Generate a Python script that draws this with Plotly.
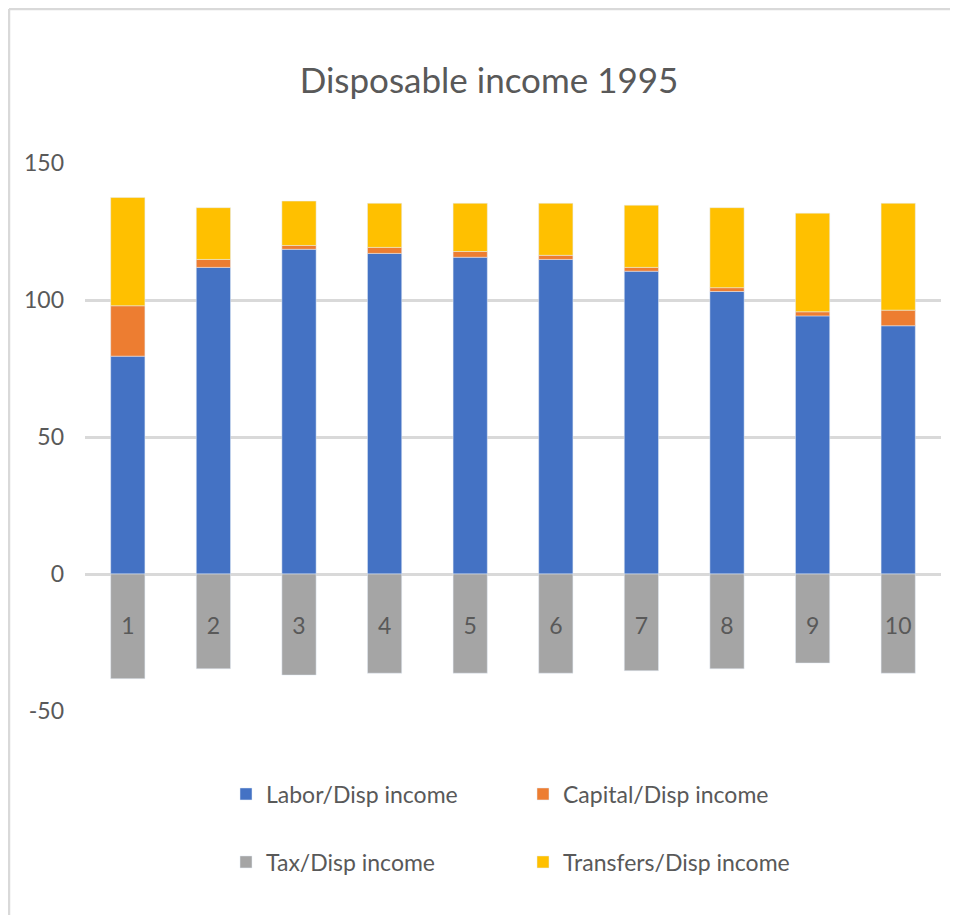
import plotly.graph_objects as go

categories = ["1", "2", "3", "4", "5", "6", "7", "8", "9", "10"]
labor = [79.5, 111.9, 118.5, 117.0, 115.6, 114.8, 110.5, 103.1, 94.2, 90.6]
capital = [18.4, 2.9, 1.4, 2.2, 2.1, 1.5, 1.4, 1.4, 1.5, 5.7]
tax = [-38.2, -34.6, -36.9, -36.2, -36.2, -36.2, -35.3, -34.6, -32.5, -36.2]
transfers = [39.5, 18.9, 16.2, 16.1, 17.6, 19.0, 22.7, 29.2, 36.0, 39.0]
y_ticks = [-50, 0, 50, 100, 150]
y_tick_text = ["-50", "0", "50", "100", "150"]

FONT = "Lato, Roboto, sans-serif"
TXT = "#595959"
GRID = "#d9d9d9"

fig = go.Figure()
fig.add_trace(go.Bar(x=categories, y=labor, name="Labor/Disp income",
                     marker_color="#4472c4", legend="legend"))
fig.add_trace(go.Bar(x=categories, y=capital, name="Capital/Disp income",
                     marker_color="#ed7d31", legend="legend"))
fig.add_trace(go.Bar(x=categories, y=tax, name="Tax/Disp income",
                     marker_color="#a5a5a5", legend="legend2"))
fig.add_trace(go.Bar(x=categories, y=transfers, name="Transfers/Disp income",
                     marker_color="#ffc000", legend="legend2"))

# page has an 8px body margin; the figure is sized to fill the rest of the window
OFF = 8
W, H = 958 - OFF, 915 - OFF
L, R, T, B = 85 - OFF, 17, 163 - OFF, 204
pw, ph = W - L - R, H - T - B

def px_x(p):  # page pixel -> paper x
    return (p - OFF - L) / pw

def px_y(p):  # page pixel -> paper y
    return (H - B - (p - OFF)) / ph

legend_common = dict(orientation="h", xanchor="left", yanchor="middle",
                     font=dict(family=FONT, size=23, color=TXT),
                     entrywidth=252, entrywidthmode="pixels",
                     bgcolor="rgba(0,0,0,0)", traceorder="normal",
                     itemclick=False)

fig.update_layout(
    width=W, height=H,
    margin=dict(l=L, r=R, t=T, b=B),
    paper_bgcolor="white", plot_bgcolor="white",
    barmode="relative", bargap=0.6,
    title=dict(text="Disposable income 1995", xref="container", x=(489 - OFF) / W,
               xanchor="center", yref="container", y=1 - (81 - OFF) / H,
               yanchor="middle",
               font=dict(family=FONT, size=35, color=TXT)),
    xaxis=dict(type="category", anchor="free", position=0.25,
               showline=False, ticks="", showgrid=False,
               tickfont=dict(family=FONT, size=23, color=TXT),
               ticklabelstandoff=36),
    yaxis=dict(range=[-50, 150], tickvals=y_ticks, ticktext=y_tick_text,
               showgrid=True, gridcolor=GRID,
               gridwidth=2.5, zeroline=True, zerolinecolor=GRID, zerolinewidth=3,
               showline=False, ticks="",
               tickfont=dict(family=FONT, size=23, color=TXT),
               ticklabelstandoff=20),
    legend=dict(x=px_x(226), y=px_y(794), **legend_common),
    legend2=dict(x=px_x(226), y=px_y(862), **legend_common),
    showlegend=True,
    shapes=[
        dict(type="line", xref="paper", yref="paper", x0=px_x(9), x1=px_x(9),
             y0=px_y(9), y1=px_y(930), line=dict(color=GRID, width=2.5)),
        dict(type="line", xref="paper", yref="paper", x0=px_x(9), x1=px_x(970),
             y0=px_y(9), y1=px_y(9), line=dict(color=GRID, width=2.5)),
    ],
)

fig.write_html("out.html")
